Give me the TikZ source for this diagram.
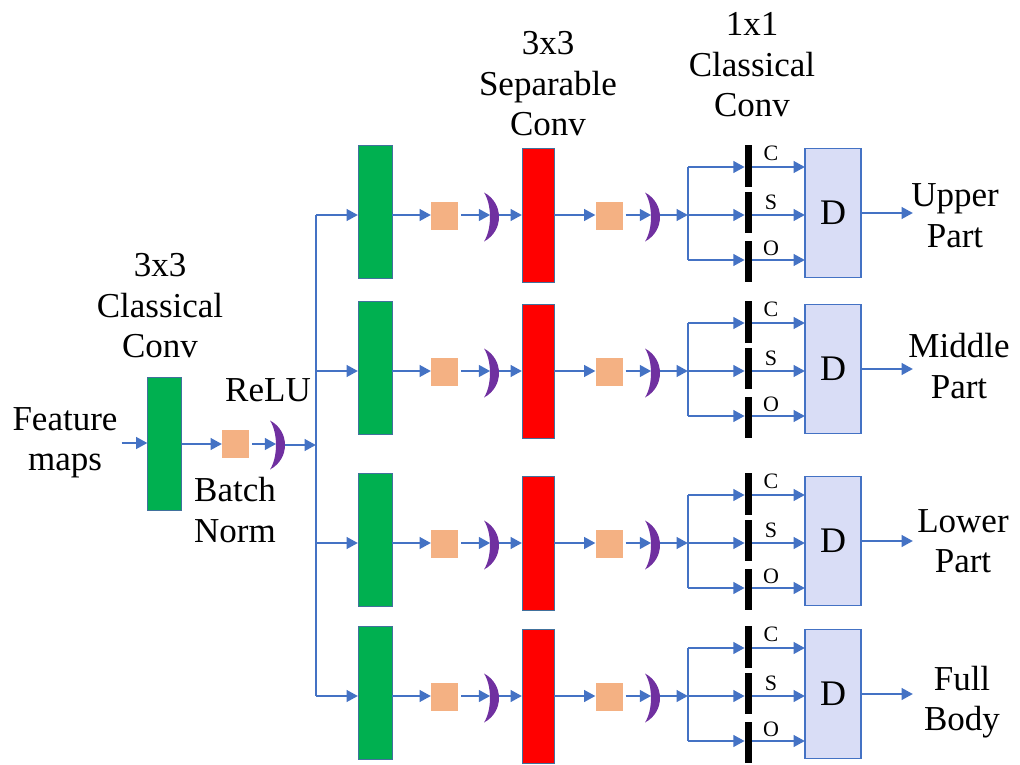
\documentclass[tikz,border=0pt]{standalone}
\usepackage{fontspec}
\setmainfont{Liberation Serif}
\usetikzlibrary{arrows.meta,calc}
\definecolor{arrblue}{HTML}{4472C4}
\definecolor{gfill}{HTML}{00B050}
\definecolor{rfill}{HTML}{FF0000}
\definecolor{ofill}{HTML}{F4B183}
\definecolor{pcol}{HTML}{7030A0}
\definecolor{dfill}{HTML}{D9DDF6}
\definecolor{edgecol}{HTML}{41719C}
\tikzset{
  arr/.style={draw=arrblue, line width=2.9pt, -{Triangle[length=11.5pt,width=11.5pt]}},
  ln/.style={draw=arrblue, line width=2.9pt},
  gbox/.style={rectangle, fill=gfill, draw=edgecol, line width=0.9pt, minimum width=34pt, minimum height=133pt, inner sep=0pt, outer sep=0pt},
  rbox/.style={rectangle, fill=rfill, draw=edgecol, line width=0.9pt, minimum width=32pt, minimum height=134pt, inner sep=0pt, outer sep=0pt},
  obox/.style={rectangle, fill=ofill, minimum width=27pt, minimum height=28pt, inner sep=0pt, outer sep=0pt},
  relu/.style={rectangle, minimum width=8.5pt, minimum height=48pt, inner sep=0pt, outer sep=0pt},
  barbox/.style={rectangle, fill=black, minimum width=7.5pt, inner sep=0pt, outer sep=0pt},
  dbox/.style={rectangle, fill=dfill, draw=arrblue, line width=1.1pt, minimum width=56pt, minimum height=129pt, inner sep=0pt, outer sep=0pt, font=\fontsize{36}{40}\selectfont},
  lbl/.style={align=center, font=\fontsize{35}{40.5}\selectfont, inner sep=0pt},
  sm/.style={font=\fontsize{22}{24}\selectfont, inner sep=0pt},
}
\newcommand\moonshape[1]{%
  \fill[pcol] ($(#1.center)+(-10.5,-24.5)$) .. controls ($(#1.center)+(9.5,-14)$) and ($(#1.center)+(9.5,14)$) .. ($(#1.center)+(-10.5,24.5)$) .. controls ($(#1.center)+(-2.5,12)$) and ($(#1.center)+(-2.5,-12)$) .. cycle;}
\begin{document}
\begin{tikzpicture}[x=1pt,y=-1pt]
\useasboundingbox (0,0) rectangle (1020,765);
% heading texts
\node[lbl] (h1) at (160,306) {3x3\\Classical\\Conv};
\node[lbl] (h2) at (548,84) {3x3\\Separable\\Conv};
\node[lbl] (h3) at (752,65) {1x1\\Classical\\Conv};
% input stage
\node[lbl] (fm) at (65,443) {Feature\\maps};
\node[gbox] (g0) at (164.5,444) {};
\node[obox] (b0) at (235.5,444) {};
\node[relu] (r0) at (280.5,445) {};
\moonshape{r0}
\node[lbl] (relutxt) at (268,390) {ReLU};
\node[lbl] (bntxt) at (235,510) {Batch\\Norm};
\coordinate (j0) at (316,445);
\draw[arr] ($(fm.east)+(4,0)$) -- (fm.east -| g0.west);
\draw[arr] (g0.east) -- (b0.west);
\draw[arr] ($(b0.east)+(3,0)$) -- (b0.east -| r0.west);
\draw[arr] (r0.east) -- (j0);
% bus
\coordinate (t1) at (316,215);
\coordinate (t2) at (316,371);
\coordinate (t3) at (316,543);
\coordinate (t4) at (316,696);
\draw[ln] (t1) -- (t4);
% branches
\foreach \i/\c/\lx/\ly/\txt in {1/215/955/215.5/{Upper\\Part},2/371/959/366/{Middle\\Part},3/543/963/541/{Lower\\Part},4/696/962/702/{Full\\Body}}{
  \coordinate (m\i) at (0,\c);
  \node[gbox] (g\i) at (375,\c-3) {};
  \node[obox] (oa\i) at (444.5,\c+1) {};
  \node[relu] (ra\i) at (494.5,\c+2) {};
  \node[rbox] (red\i) at (538,\c) {};
  \node[obox] (ob\i) at (609,\c+1) {};
  \node[relu] (rb\i) at (655.5,\c+2) {};
  \moonshape{ra\i}
  \moonshape{rb\i}
  \coordinate (s\i) at (688,\c);
  \coordinate (su\i) at (688,\c-48);
  \coordinate (sd\i) at (688,\c+45);
  \node[barbox, minimum height=42pt] (bc\i) at (748.5,\c-49) {};
  \node[barbox, minimum height=41pt] (bs\i) at (748.5,\c-2.5) {};
  \node[barbox, minimum height=41pt] (bo\i) at (748.5,\c+46.5) {};
  \node[sm] (cl\i) at (771,\c-62) {C};
  \node[sm] (sl\i) at (771,\c-13) {S};
  \node[sm] (ol\i) at (771,\c+33) {O};
  \node[dbox] (d\i) at (833,\c-2) {D};
  \node[lbl] (out\i) at (\lx,\ly) {\txt};
  \coordinate (oe\i) at (913,\c-2);
  \draw[arr] (t\i) -- (t\i -| g\i.west);
  \draw[arr] (g\i.east |- m\i) -- (oa\i.west |- m\i);
  \draw[arr] ($(oa\i.east |- m\i)+(3,0)$) -- (ra\i.west |- m\i);
  \draw[arr] (ra\i.east |- m\i) -- (red\i.west |- m\i);
  \draw[arr] (red\i.east |- m\i) -- (ob\i.west |- m\i);
  \draw[arr] ($(ob\i.east |- m\i)+(3,0)$) -- (rb\i.west |- m\i);
  \draw[arr] (rb\i.east |- m\i) -- (s\i);
  \draw[ln] (su\i) -- (sd\i);
  \draw[arr] (su\i) -- (su\i -| bc\i.west);
  \draw[arr] (s\i) -- (s\i -| bs\i.west);
  \draw[arr] (sd\i) -- (sd\i -| bo\i.west);
  \draw[arr] (su\i -| bc\i.east) -- (su\i -| d\i.west);
  \draw[arr] (s\i -| bs\i.east) -- (s\i -| d\i.west);
  \draw[arr] (sd\i -| bo\i.east) -- (sd\i -| d\i.west);
  \draw[arr] (d\i.east) -- (oe\i);
}
\end{tikzpicture}
\end{document}
